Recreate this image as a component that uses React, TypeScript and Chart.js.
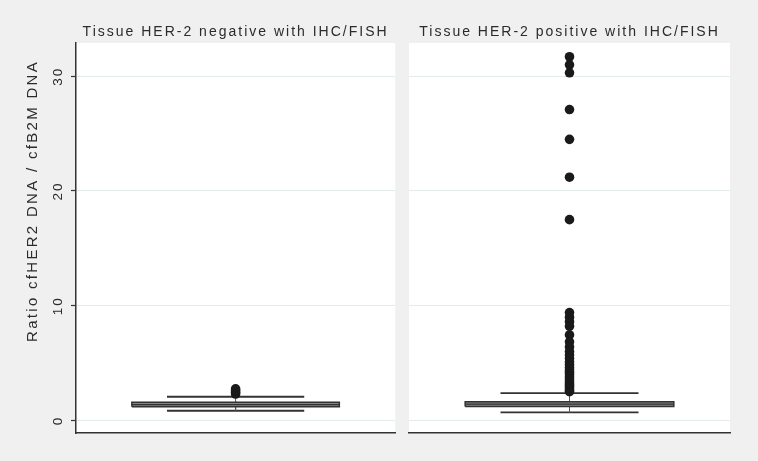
import React, { useEffect, useRef } from "react";
import { Chart, registerables } from "chart.js";

Chart.register(...registerables);

const panelTitles = ["Tissue HER-2 negative with IHC/FISH", "Tissue HER-2 positive with IHC/FISH"];
const yAxisTitle = "Ratio cfHER2 DNA / cfB2M DNA";
const yTickValues = [0, 10, 20, 30];
const yMin = -1.1;
const yMax = 32.9;

// box statistics: [lower whisker, q1, median, q3, upper whisker]
const negStats = [0.84, 1.18, 1.38, 1.58, 2.06];
const posStats = [0.7, 1.2, 1.42, 1.62, 2.38];
const negOutliers = [2.3, 2.45, 2.6, 2.75];
const posOutliers = [
  31.7, 31.0, 30.3, 27.1, 24.5, 21.2, 17.5, 9.4, 9.0, 8.6, 8.2, 7.45, 6.85, 6.4, 6.0, 5.7, 5.4, 5.1,
  4.85, 4.6, 4.4, 4.2, 4.0, 3.8, 3.6, 3.4, 3.2, 3.05, 2.9, 2.75, 2.6, 2.5,
];

const FONT = "'Liberation Sans', Arial, sans-serif";
const INK = "#2b2b2b";
const CENTER = 0.5;
const BOX_HALF = 0.325;
const CAP_HALF = 0.215;
const SPACING = "2px";

function buildDatasets(stats: number[], outliers: number[]) {
  const [lw, q1, med, q3, uw] = stats;
  const seg = (pts: { x: number; y: number }[], color: string, width: number, extra: any = {}) => ({
    type: "line",
    data: pts,
    borderColor: color,
    borderWidth: width,
    pointRadius: 0,
    pointHoverRadius: 0,
    tension: 0,
    fill: false,
    ...extra,
  });
  return [
    {
      type: "scatter",
      data: outliers.map((y) => ({ x: CENTER, y })),
      pointRadius: 4.8,
      pointHoverRadius: 4.8,
      pointBackgroundColor: "#1a1a1a",
      pointBorderWidth: 0,
      showLine: false,
    },
    seg([{ x: CENTER - BOX_HALF, y: med }, { x: CENTER + BOX_HALF, y: med }], "#333333", 1.2),
    seg(
      [
        { x: CENTER - BOX_HALF, y: q1 },
        { x: CENTER - BOX_HALF, y: q3 },
        { x: CENTER + BOX_HALF, y: q3 },
        { x: CENTER + BOX_HALF, y: q1 },
        { x: CENTER - BOX_HALF, y: q1 },
      ],
      "#333333",
      1.5,
      { fill: "shape", backgroundColor: "#858585" }
    ),
    seg([{ x: CENTER, y: q3 }, { x: CENTER, y: uw }], "#555555", 1),
    seg([{ x: CENTER - CAP_HALF, y: uw }, { x: CENTER + CAP_HALF, y: uw }], "#333333", 1.8),
    seg([{ x: CENTER, y: q1 }, { x: CENTER, y: lw }], "#555555", 1),
    seg([{ x: CENTER - CAP_HALF, y: lw }, { x: CENTER + CAP_HALF, y: lw }], "#333333", 1.8),
  ];
}

const plotBg = {
  id: "plotBg",
  beforeUpdate(chart: any) {
    chart.ctx.letterSpacing = SPACING;
  },
  beforeLayout(chart: any) {
    chart.ctx.letterSpacing = SPACING;
  },
  beforeDraw(chart: any) {
    const { ctx, chartArea } = chart;
    ctx.letterSpacing = SPACING;
    ctx.save();
    ctx.fillStyle = "#ffffff";
    ctx.fillRect(chartArea.left, chartArea.top, chartArea.right - chartArea.left, chartArea.bottom - chartArea.top);
    ctx.restore();
  },
};

const yTitlePlugin = {
  id: "yTitle",
  afterDraw(chart: any) {
    const ctx = chart.ctx;
    ctx.save();
    ctx.letterSpacing = "2.3px";
    ctx.font = `15px ${FONT}`;
    ctx.fillStyle = INK;
    ctx.translate(33, 201);
    ctx.rotate(-Math.PI / 2);
    ctx.textAlign = "center";
    ctx.textBaseline = "middle";
    ctx.fillText(yAxisTitle, 0, 0);
    ctx.restore();
  },
};

function makeConfig(idx: number) {
  const isLeft = idx === 0;
  const stats = isLeft ? negStats : posStats;
  const outliers = isLeft ? negOutliers : posOutliers;
  return {
    type: "scatter",
    data: { datasets: buildDatasets(stats, outliers) },
    plugins: isLeft ? [plotBg, yTitlePlugin] : [plotBg],
    options: {
      animation: false,
      responsive: false,
      events: [],
      layout: {
        padding: isLeft
          ? { top: 24.2, right: 4, bottom: 28, left: 0 }
          : { top: 24.2, right: 28, bottom: 28, left: 9 },
      },
      plugins: {
        legend: { display: false },
        tooltip: { enabled: false },
        title: {
          display: true,
          text: panelTitles[idx],
          fullSize: false,
          color: INK,
          font: { family: FONT, size: 14, weight: "normal", lineHeight: 1.2 },
          padding: { top: 0, bottom: 2 },
        },
      },
      scales: {
        x: {
          type: "linear",
          min: 0,
          max: 1,
          display: true,
          ticks: { display: false },
          grid: { display: false, drawTicks: false },
          border: { display: true, color: "#333333", width: 1.5 },
          afterFit: (s: any) => {
            s.height = 0;
          },
        },
        y: {
          type: "linear",
          min: yMin,
          max: yMax,
          display: true,
          afterBuildTicks: (s: any) => {
            s.ticks = yTickValues.map((v) => ({ value: v }));
          },
          ticks: isLeft
            ? {
                display: true,
                minRotation: 90,
                maxRotation: 90,
                crossAlign: "center",
                padding: 3,
                color: INK,
                font: { family: FONT, size: 13.5 },
              }
            : { display: false },
          grid: {
            color: "#e3ebeb",
            lineWidth: 1,
            drawTicks: isLeft,
            tickLength: 5,
            tickColor: "#333333",
            tickWidth: 1.2,
          },
          border: { display: isLeft, color: "#333333", width: 1.5 },
          afterFit: (s: any) => {
            s.width = isLeft ? 76 : 0;
          },
        },
      },
    },
  };
}

function Panel({ idx, left, width }: { idx: number; left: number; width: number }) {
  const ref = useRef<HTMLCanvasElement | null>(null);
  useEffect(() => {
    if (!ref.current) return;
    const chart = new Chart(ref.current, makeConfig(idx) as any);
    return () => chart.destroy();
  }, [idx]);
  return (
    <canvas
      ref={ref}
      width={width}
      height={461}
      style={{ position: "absolute", left, top: 0, width, height: 461 }}
    />
  );
}

export default function App() {
  return (
    <div
      style={{
        position: "fixed",
        left: 0,
        top: 0,
        width: 758,
        height: 461,
        background: "#f0f0f0",
        overflow: "hidden",
      }}
    >
      <Panel idx={0} left={0} width={400} />
      <Panel idx={1} left={400} width={358} />
    </div>
  );
}
